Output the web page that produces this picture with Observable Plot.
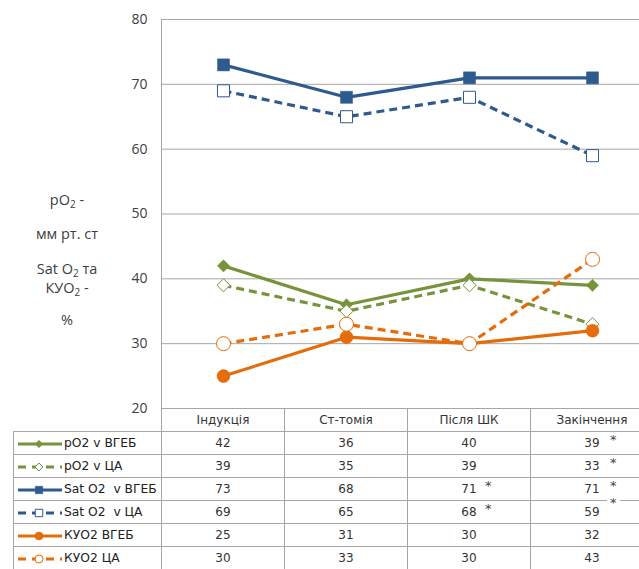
<!DOCTYPE html>
<html><head><meta charset="utf-8">
<script src="https://cdn.jsdelivr.net/npm/d3@7"></script>
<script src="https://cdn.jsdelivr.net/npm/@observablehq/plot@0.6"></script>
<style>
body{margin:0;background:#fff}
#wrap{position:relative;width:639px;height:569px;overflow:hidden;font-family:"DejaVu Sans",sans-serif;background:#fff}
#wrap svg.plot{position:absolute;left:0;top:0}
#ylab{position:absolute;left:17px;width:100px;top:0;font-family:"Open Sans",sans-serif;font-size:14.5px;color:#404040;text-align:center}
#ylab div{position:absolute;left:0;width:100px;transform:translateY(-50%);white-space:nowrap}
#ylab sub{font-size:10px;vertical-align:-3px}
table{position:absolute;left:13px;top:408px;border-collapse:collapse;table-layout:fixed;width:640px;font-size:12px;color:#333}
td{border:1px solid #a6a6a6;height:22px;padding:0;text-align:center;position:relative;white-space:pre}
td.leg{text-align:left;color:#222;font-size:12.3px}
td.leg svg{vertical-align:middle;margin-right:2px}
td.corner{border-top:none;border-left:none}
.ast{position:absolute;top:2px;font-size:13px;color:#444;line-height:12px;padding:0 3px}
.ast.raised{top:-4px;background:#fff;z-index:2}
</style></head><body><div id="wrap"></div>
<script>
// ---- data ----
const categories = ["Індукція", "Ст-томія", "Після ШК", "Закінчення"];
const seriesNames = ["pO2 v ВГЕБ", "pO2 v ЦА", "Sat O2  v ВГЕБ", "Sat O2  v ЦА", "КУО2 ВГЕБ", "КУО2 ЦА"];
const pO2_VGEB = [42, 36, 40, 39];
const pO2_CA   = [39, 35, 39, 33];
const sat_VGEB = [73, 68, 71, 71];
const sat_CA   = [69, 65, 68, 59];
const kuo_VGEB = [25, 31, 30, 32];
const kuo_CA   = [30, 33, 30, 43];
const yTicks = [20, 30, 40, 50, 60, 70, 80];
// cells marked with an asterisk: [seriesIndex, categoryIndex]
const asterisks = [[0, 3], [1, 3], [2, 2], [2, 3], [3, 2]];
const asterisksBetween = [[3, 3]]; // asterisk placed on the border above the cell

// ---- styles ----
const green = "#77933C", blue = "#2F5A8E", orange = "#E46C0A";
const styles = [
  {color: green,  dash: null,  symbol: "diamond2", filled: true,  r: 5.5, lr: 3.4},
  {color: green,  dash: "8,5", symbol: "diamond2", filled: false, r: 5.9, lr: 3.6},
  {color: blue,   dash: null,  symbol: "square",   filled: true,  r: 6.8, lr: 4.2},
  {color: blue,   dash: "8,5", symbol: "square",   filled: false, r: 6.8, lr: 4.2},
  {color: orange, dash: null,  symbol: "circle",   filled: true,  r: 6.5, lr: 4},
  {color: orange, dash: "8,5", symbol: "circle",   filled: false, r: 7,   lr: 4}
];
const values = [pO2_VGEB, pO2_CA, sat_VGEB, sat_CA, kuo_VGEB, kuo_CA];

const series = seriesNames.map((name, si) => ({
  name, style: styles[si],
  data: values[si].map((v, i) => ({cat: categories[i], v}))
}));

const marks = [
  Plot.ruleY(yTicks, {stroke: "#a6a6a6", strokeWidth: 1}),
  Plot.axisY({ticks: yTicks, tickSize: 0, tickPadding: 14, fontSize: 14, fill: "#404040", label: null}),
  Plot.frame({anchor: "left", stroke: "#a6a6a6"})
];
for (const s of series) {
  const st = s.style;
  marks.push(Plot.line(s.data, {x: "cat", y: "v", stroke: st.color, strokeWidth: 3.2, strokeDasharray: st.dash, strokeLinecap: "butt", strokeLinejoin: "round"}));
  marks.push(Plot.dot(s.data, {x: "cat", y: "v", symbol: st.symbol, r: st.r,
    fill: st.filled ? st.color : "#fff", stroke: st.color, strokeWidth: st.filled ? 0.5 : 1}));
}

const chart = Plot.plot({
  width: 639, height: 425,
  marginTop: 19, marginBottom: 17, marginLeft: 161, marginRight: 0,
  style: {fontFamily: "Open Sans, sans-serif", background: "transparent"},
  x: {type: "point", domain: categories, range: [161, 653], padding: 0.5, axis: null},
  y: {domain: [20, 80], range: [408, 19], axis: null},
  marks
});
chart.classList.add("plot");
const wrap = document.getElementById("wrap");
wrap.appendChild(chart);

// ---- y axis title ----
const ylab = document.createElement("div");
ylab.id = "ylab";
ylab.innerHTML = [
  [200, "pO<sub>2</sub> -"],
  [233, "мм рт. ст"],
  [269, "Sat O<sub>2</sub> та"],
  [288, "КУО<sub>2</sub> -"],
  [319, "%"]
].map(([y, t]) => `<div style="top:${y}px">${t}</div>`).join("");
wrap.appendChild(ylab);

// ---- data table ----
const xs = chart.scale("x");
const bandW = xs.step || 123;
const table = d3.select(wrap).append("table");
const cg = table.append("colgroup");
cg.append("col").style("width", (xs.range[0] - 13) + "px");
categories.forEach(() => cg.append("col").style("width", bandW + "px"));
const hr = table.append("tr");
hr.append("td").attr("class", "corner");
categories.forEach(c => hr.append("td").text(c));
const symMap = {diamond2: d3.symbolDiamond2, square: d3.symbolSquare, circle: d3.symbolCircle};
series.forEach((s, si) => {
  const tr = table.append("tr");
  const lg = tr.append("td").attr("class", "leg");
  const sw = lg.append("svg").attr("width", 48).attr("height", 12);
  sw.append("line").attr("x1", 4).attr("x2", 48).attr("y1", 6).attr("y2", 6)
    .attr("stroke", s.style.color).attr("stroke-width", 3)
    .attr("stroke-dasharray", s.style.dash ? "8,6" : null);
  sw.append("path").attr("transform", "translate(25,6)")
    .attr("d", d3.symbol(symMap[s.style.symbol], Math.PI * s.style.lr * s.style.lr)())
    .attr("fill", s.style.filled ? s.style.color : "#fff")
    .attr("stroke", s.style.color).attr("stroke-width", s.style.filled ? 0.5 : 1);
  lg.append("span").text(s.name);
  values[si].forEach((v, ci) => {
    const td = tr.append("td");
    td.append("span").text(v);
    if (asterisks.some(([r, c]) => r === si && c === ci))
      td.append("span").attr("class", "ast").style("left", `calc(50% + ${ci === 2 ? 13 : 15}px)`).text("*");
    if (asterisksBetween.some(([r, c]) => r === si && c === ci))
      td.append("span").attr("class", "ast raised").style("left", "calc(50% + 15px)").text("*");
  });
});
</script>
</body></html>
